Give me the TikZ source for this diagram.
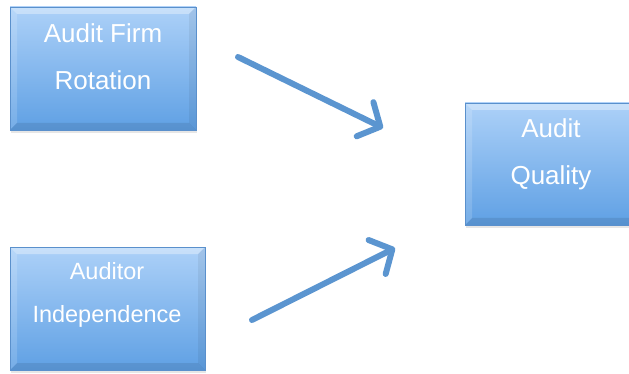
\documentclass[tikz,border=0pt]{standalone}
\usepackage{fontspec}
\setmainfont{Liberation Sans}
\usetikzlibrary{arrows.meta, positioning, shadows, calc}
\definecolor{boxtop}{HTML}{ADD1F8}
\definecolor{boxbot}{HTML}{5FA0E4}
\definecolor{boxedge}{HTML}{5A90CC}
\definecolor{arrowblue}{HTML}{5B95D0}

\tikzset{
  factor/.style={rectangle, minimum height=123pt, top color=boxtop, bottom color=boxbot,
    draw=boxedge, line width=0.4pt,
    drop shadow={opacity=0.2, shadow xshift=1pt, shadow yshift=-3pt},
    path picture={
      \coordinate (nw) at (path picture bounding box.north west);
      \coordinate (ne) at (path picture bounding box.north east);
      \coordinate (sw) at (path picture bounding box.south west);
      \coordinate (se) at (path picture bounding box.south east);
      \fill[white, opacity=0.35] (nw) -- (ne) -- ($(ne)+(-7,7)$) -- ($(nw)+(7,7)$) -- cycle;
      \fill[white, opacity=0.15] (nw) -- ($(nw)+(7,7)$) -- ($(sw)+(7,-7)$) -- (sw) -- cycle;
      \fill[black, opacity=0.09] (sw) -- ($(sw)+(7,-7)$) -- ($(se)+(-7,-7)$) -- (se) -- cycle;
      \fill[black, opacity=0.06] (ne) -- ($(ne)+(-7,7)$) -- ($(se)+(-7,-7)$) -- (se) -- cycle;
    }},
  boxtext/.style={text=white, anchor=base, inner sep=0pt},
  link/.style={arrowblue, line width=6pt, line cap=round, line join=round,
    -{Straight Barb[length=17pt, width=38pt, round]}}
}

\begin{document}
\begin{tikzpicture}[x=1pt, y=-1pt]
    \useasboundingbox (0,0) rectangle (629,374);

    % Audit firm rotation
    \node[factor, minimum width=186pt] (rotation) at (103,68.5) {};
    \node[boxtext, font=\fontsize{26}{30}\selectfont] (rotation-a) at (103,43) {Audit Firm};
    \node[boxtext, font=\fontsize{26}{30}\selectfont] (rotation-b) at (103,90) {Rotation};

    % Auditor independence
    \node[factor, minimum width=195pt] (independence) at (107.5,308.5) {};
    \node[boxtext, font=\fontsize{23.5}{28}\selectfont] (independence-a) at (107,279) {Auditor};
    \node[boxtext, font=\fontsize{23.5}{28}\selectfont] (independence-b) at (107,322) {Independence};

    % Audit quality
    \node[factor, minimum width=172pt, minimum height=122pt] (quality) at (551,164) {};
    \node[boxtext, font=\fontsize{26}{30}\selectfont] (quality-a) at (551,138) {Audit};
    \node[boxtext, font=\fontsize{26}{30}\selectfont] (quality-b) at (551,185) {Quality};

    % Arrows
    \coordinate (rotation-from) at (238,57);
    \coordinate (rotation-to) at (383,128);
    \coordinate (independence-from) at (252,320);
    \coordinate (independence-to) at (395,248);
    \draw[link] (rotation-from) -- (rotation-to);
    \draw[link] (independence-from) -- (independence-to);
\end{tikzpicture}
\end{document}
